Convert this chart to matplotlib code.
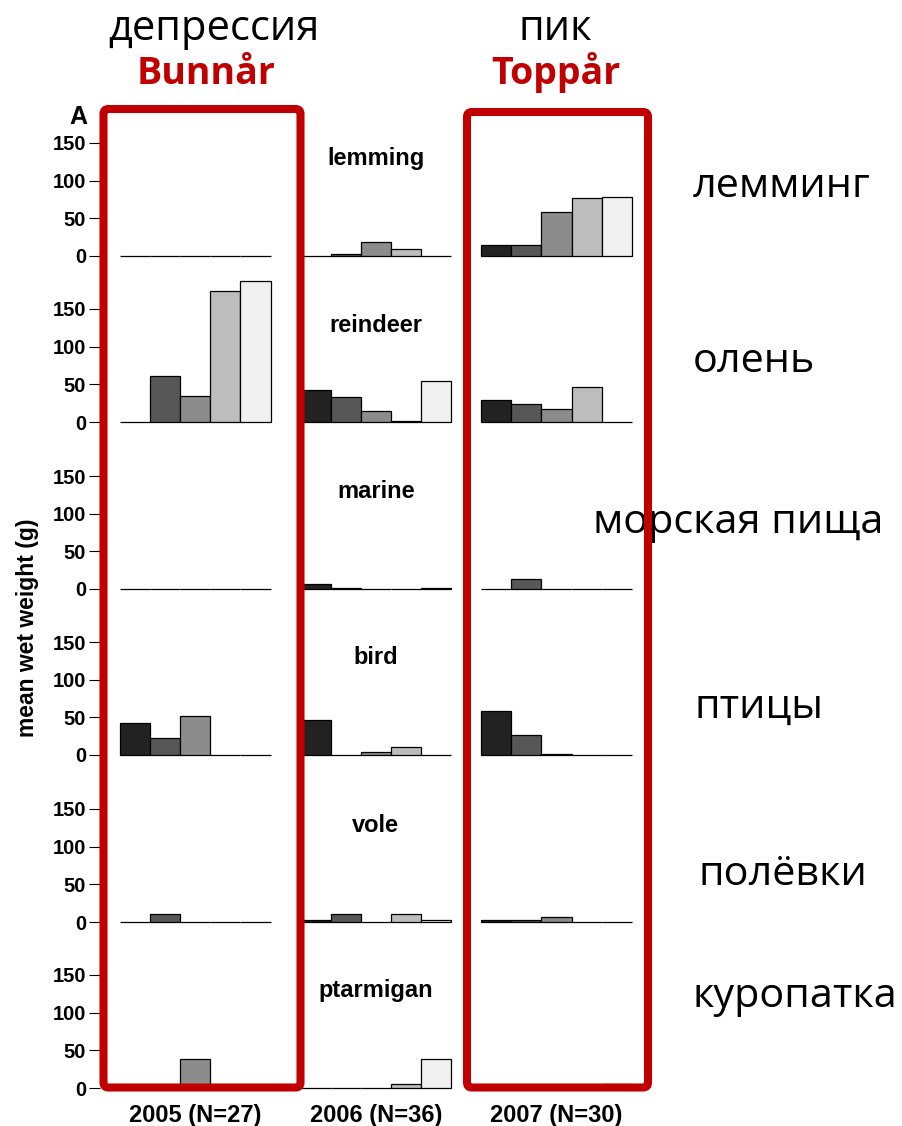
import matplotlib.pyplot as plt
from matplotlib.patches import FancyBboxPatch
import numpy as np

# values (mean wet weight, g); 5 bars per year
YEARS = ["2005 (N=27)", "2006 (N=36)", "2007 (N=30)"]
PREY = ["lemming", "reindeer", "marine", "bird", "vole", "ptarmigan"]
PREY_RU = ["лемминг", "олень", "морская пища", "птицы", "полёвки", "куропатка"]

lemming = [0, 0, 0, 0.5, 0.5, 0.5, 3, 18, 9, 0, 14, 14, 59, 77, 78]
reindeer = [0, 61, 34, 174, 187, 42, 33, 14, 1.5, 55, 29, 24, 17, 47, 0]
marine = [0, 0, 0, 0, 0, 6, 1.5, 0, 0, 1.5, 0, 13, 0, 0, 0]
bird = [42, 22, 52, 0, 0, 47, 0.5, 4, 10, 0.5, 59, 27, 1, 0, 0]
vole = [0, 10, 0, 0, 0, 2.5, 10, 0, 10, 3, 2.5, 2.5, 7, 0, 0]
ptarmigan = [0, 0, 39, 0, 0, 0, 0, 0, 5, 39, 0, 0, 0, 0, 5]
VALUES = [lemming, reindeer, marine, bird, vole, ptarmigan]

BAR_COLORS = ["#222222", "#575757", "#8c8c8c", "#bdbdbd", "#f0f0f0"]
RED = "#C00000"

W, H = 902, 1126
ZERO_PX = [256, 422, 589, 755, 922, 1088]
PX_PER_G = 113 / 150
PX_PER_BAR = 30.1
BAR0_PX = 120

fig = plt.figure(figsize=(W / 100, H / 100), dpi=100)

x = np.array([g * 6 + k for g in range(3) for k in range(5)], dtype=float)
colors = BAR_COLORS * 3
ax_left, ax_right = 100, 660

for i, (name, vals) in enumerate(zip(PREY, VALUES)):
    z = ZERO_PX[i]
    ax = fig.add_axes([ax_left / W, 1 - (z + 10) / H, (ax_right - ax_left) / W, 170 / H])
    ax.bar(x, vals, width=1.0, align="edge", color=colors, edgecolor="black", linewidth=0.9)
    ax.set_xlim((ax_left - BAR0_PX) / PX_PER_BAR, (ax_right - BAR0_PX) / PX_PER_BAR)
    ax.set_ylim(-10 / PX_PER_G, 160 / PX_PER_G)
    ax.set_yticks([0, 50, 100, 150])
    ax.set_yticklabels(["0", "50", "100", "150"], fontsize=14.5, fontweight="bold",
                       family="Liberation Sans")
    ax.tick_params(axis="y", length=8, width=0.8, pad=2)
    ax.spines[["top", "right", "bottom", "left"]].set_visible(False)
    ax.patch.set_alpha(0)
    ax.text(8.5, 97 / PX_PER_G, name, ha="center", va="center", fontsize=17,
            fontweight="bold", family="Liberation Sans")
    if i == len(PREY) - 1:
        ax.set_xticks([2.5, 8.5, 14.5])
        ax.set_xticklabels(YEARS, fontsize=17, fontweight="bold", family="Liberation Sans")
        ax.tick_params(axis="x", length=0, pad=4)
    else:
        ax.set_xticks([])

# overlay in pixel coordinates for titles, labels and the red boxes
ov = fig.add_axes([0, 0, 1, 1], zorder=10)
ov.set_xlim(0, W)
ov.set_ylim(H, 0)
ov.axis("off")
ov.patch.set_alpha(0)

ru = ["Open Sans", "DejaVu Sans"]
ov.text(214, 40, "депрессия", ha="center", va="baseline", fontsize=30, family=ru)
ov.text(206, 84, "Bunnår", ha="center", va="baseline", fontsize=27, fontweight="bold",
        color=RED, family=ru)
ov.text(555, 40, "пик", ha="center", va="baseline", fontsize=30, family=ru)
ov.text(556, 84, "Toppår", ha="center", va="baseline", fontsize=27, fontweight="bold",
        color=RED, family=ru)

label_pos = [(693, 197), (693, 372), (593, 533), (695, 718), (698, 885), (693, 1007)]
for (lx, ly), lab in zip(label_pos, PREY_RU):
    ov.text(lx, ly, lab, ha="left", va="baseline", fontsize=29.8, family=ru, zorder=1)

ov.text(78, 117, "A", ha="center", va="center", fontsize=18, fontweight="bold",
        family="Liberation Sans")
ov.text(28, 628, "mean wet weight (g)", ha="center", va="center", rotation=90,
        fontsize=16.5, fontweight="bold", family="Liberation Sans")

for (l, r, t, b) in [(103.5, 300.5, 109, 1087.5), (467, 648, 112, 1087.5)]:
    box = FancyBboxPatch((l, t), r - l, b - t, boxstyle="round,pad=0,rounding_size=5",
                         facecolor="none", edgecolor=RED, linewidth=5.8, zorder=5)
    ov.add_patch(box)

fig.savefig("out.png", dpi=100)
